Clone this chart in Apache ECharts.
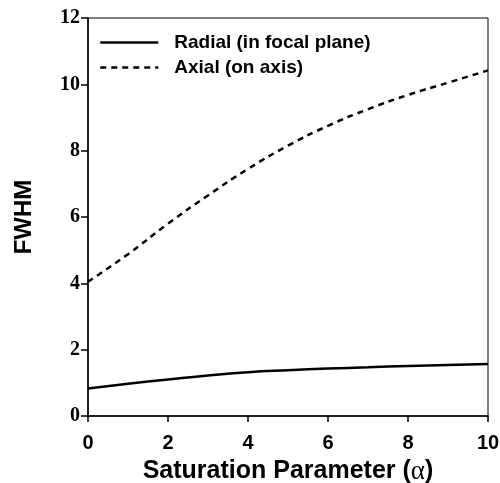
<!DOCTYPE html>
<html>
<head>
<meta charset="utf-8">
<script src="https://cdn.jsdelivr.net/npm/echarts@6/dist/echarts.min.js"></script>
<style>
    html, body {margin: 0; padding: 0; background: #fff;}
    #chart {width: 500px; height: 483px;}
</style>
</head>
<body>
<div id="chart"></div>
<script>
    // saturation parameter alpha
    const alpha = [0, 1, 2, 3, 4, 5, 6, 7, 8, 9, 10];
    // FWHM values
    const radial = [0.83, 0.97, 1.10, 1.22, 1.32, 1.38, 1.43, 1.47, 1.51, 1.54, 1.57];
    const axial = [4.05, 4.88, 5.80, 6.65, 7.45, 8.15, 8.75, 9.25, 9.68, 10.05, 10.42];
    const seriesNames = ["Radial (in focal plane)", "Axial (on axis)"];

    const chart = echarts.init(document.getElementById("chart"));

    const sans = "Liberation Sans, Arial, sans-serif";
    const serif = "Liberation Serif, Times New Roman, serif";

    const toPairs = (ys) => alpha.map((x, i) => [x, ys[i]]);

    const option = {
        animation: false,
        grid: {
            left: 88,
            right: 12,
            top: 18,
            bottom: 67,
            outerBoundsMode: "none",
            show: true,
            borderColor: "#000",
            borderWidth: 1,
        },
        legend: {
            orient: "vertical",
            left: 99,
            top: 33,
            padding: 0,
            itemWidth: 58,
            itemHeight: 16,
            itemGap: 6,
            data: [
                {name: seriesNames[0], lineStyle: {width: 2.5, type: "solid"}},
                {name: seriesNames[1], lineStyle: {width: 2.5, type: [6, 5]}},
            ],
            itemStyle: {opacity: 0},
            textStyle: {
                fontFamily: sans,
                fontWeight: "bold",
                fontSize: 19,
                color: "#000",
                padding: [0, 0, 0, 11],
            },
        },
        xAxis: {
            type: "value",
            min: 0,
            max: 10,
            interval: 2,
            name: "Saturation Parameter ({a|α})",
            nameLocation: "middle",
            nameGap: 42,
            nameTextStyle: {
                fontFamily: sans,
                fontWeight: "bold",
                fontSize: 25,
                color: "#000",
                rich: {
                    a: {fontFamily: serif, fontSize: 27, fontWeight: "normal", color: "#000"},
                },
            },
            axisLine: {lineStyle: {color: "#000", width: 1.5}},
            axisTick: {inside: false, length: 6, lineStyle: {color: "#000", width: 1.5}},
            axisLabel: {
                margin: 17,
                fontFamily: sans,
                fontWeight: "bold",
                fontSize: 20,
                color: "#000",
            },
            splitLine: {show: false},
        },
        yAxis: {
            type: "value",
            min: 0,
            max: 12,
            interval: 2,
            name: "FWHM",
            nameLocation: "middle",
            nameGap: 52,
            nameTextStyle: {
                fontFamily: sans,
                fontWeight: "bold",
                fontSize: 24,
                color: "#000",
            },
            axisLine: {show: true, lineStyle: {color: "#000", width: 1.5}},
            axisTick: {show: true, inside: false, length: 7, lineStyle: {color: "#000", width: 1.5}},
            axisLabel: {
                margin: 8,
                fontFamily: serif,
                fontWeight: "bold",
                fontSize: 20,
                color: "#000",
            },
            splitLine: {show: false},
        },
        series: [
            {
                name: seriesNames[0],
                type: "line",
                smooth: true,
                symbol: "none",
                data: toPairs(radial),
                lineStyle: {color: "#000", width: 2.5, type: "solid"},
                itemStyle: {color: "#000"},
            },
            {
                name: seriesNames[1],
                type: "line",
                smooth: true,
                symbol: "none",
                data: toPairs(axial),
                lineStyle: {color: "#000", width: 2.5, type: [6, 5]},
                itemStyle: {color: "#000"},
            },
        ],
    };

    chart.setOption(option);
</script>
</body>
</html>
